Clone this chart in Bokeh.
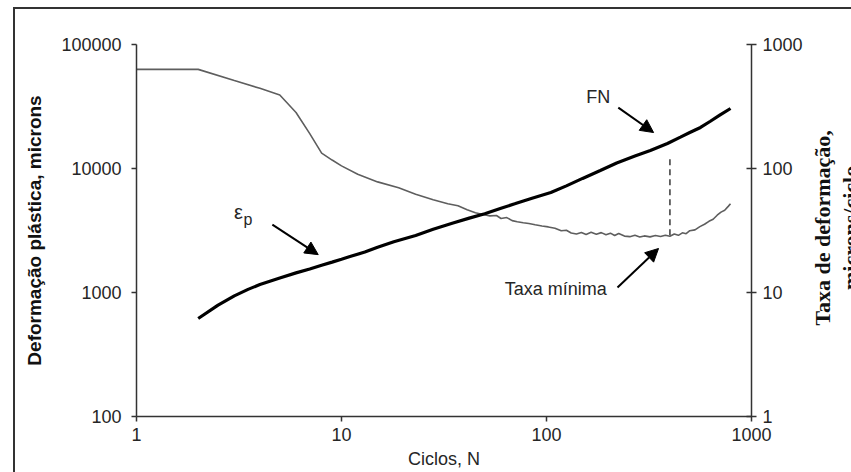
import numpy as np
from bokeh.plotting import figure
from bokeh.layouts import row
from bokeh.models import (LogAxis, Range1d, LogScale, FixedTicker, PrintfTickFormatter,
                          Label, Arrow, NormalHead, ColumnDataSource)
from bokeh.core.properties import value
from bokeh.embed import file_html
from bokeh.resources import INLINE

# ---- data ----
# strain rate curve (right axis, microns/cycle)
rate_cycles = [1, 2, 3, 4, 5, 6, 7, 8, 9, 10, 12, 15, 19, 23, 28, 33, 37, 41, 45, 49,
               53, 57, 60, 64, 68, 72, 77, 82, 88, 95, 102, 110, 118, 125, 132, 140,
               148, 156, 165, 175, 185, 195, 205, 215, 225, 240, 255, 270, 285, 300,
               320, 340, 360, 380, 400, 420, 440, 460, 480, 500, 530, 560, 590, 620,
               650, 680, 710, 740, 770, 790]
rate_values = [630, 630, 512, 443, 392, 283, 191, 133, 117, 105, 90, 78, 70, 62, 56, 52,
               50, 46.5, 44, 42.5, 41.5, 41.8, 39.5, 40.2, 38, 37.2, 36.5, 36, 35.2, 34.4,
               33.8, 33, 31.5, 31.8, 30.2, 29.6, 30.5, 29.4, 30.6, 29.5, 30.4, 29.2, 30.1,
               28.8, 29.9, 28.5, 28.2, 28.9, 28.0, 28.6, 28.1, 28.8, 28.3, 29.0, 28.4,
               29.6, 28.9, 30.3, 29.8, 31.5, 32.0, 34.0, 35.5, 37.5, 39.0, 42.0, 44.5,
               46.0, 49.5, 52]

# plastic deformation curve (left axis, microns)
strain_cycles = [2, 2.5, 3, 3.5, 4, 5, 6, 7, 8, 9, 10, 11, 13, 15, 18, 23, 28, 35, 42, 50,
                 60, 70, 85, 105, 125, 150, 183, 220, 270, 321, 389, 450, 500, 564, 630,
                 700, 790]
strain_values = [617, 790, 940, 1060, 1160, 1310, 1439, 1549, 1660, 1758, 1854, 1950,
                 2118, 2317, 2570, 2884, 3236, 3631, 3981, 4315, 4786, 5188, 5754, 6397,
                 7244, 8318, 9640, 11090, 12590, 13970, 15920, 17900, 19500, 21430, 24040,
                 26900, 30480]

# flow number marker
fn_cycle = 400
fn_rate_low = 29.0
fn_rate_high = 127

x_ticks = [1, 10, 100, 1000]
left_ticks = [100, 1000, 10000, 100000]
right_ticks = [1, 10, 100, 1000]

right_title_lines = ["Taxa de deformação,", "microns/ciclo"]

TXT = "#262626"
FONT = "Liberation Sans"
H = 463

p = figure(width=790, height=H, x_axis_type="log", y_axis_type="log",
           x_range=Range1d(1, 1000), y_range=Range1d(100, 100000),
           output_backend="svg", toolbar_location=None,
           min_border_left=121, min_border_right=54, min_border_top=35,
           min_border_bottom=56)
p.outline_line_color = None
p.background_fill_color = "white"
p.border_fill_color = "white"

p.extra_y_ranges = {"rate": Range1d(1, 1000)}
p.extra_y_scales = {"rate": LogScale()}

# grids
p.xgrid.visible = False
p.ygrid.ticker = FixedTicker(ticks=[100000])
p.ygrid.grid_line_color = "#8a8a8a"
p.ygrid.grid_line_width = 1

# bottom axis
xa = p.xaxis[0]
xa.ticker = FixedTicker(ticks=x_ticks)
xa.formatter = PrintfTickFormatter(format="%d")
xa.axis_label = "Ciclos, N"
xa.axis_label_text_font = FONT
xa.axis_label_text_font_style = "normal"
xa.axis_label_text_font_size = "18px"
xa.axis_label_text_color = TXT
xa.axis_label_standoff = 5
xa.major_label_standoff = 6

# left axis
ya = p.yaxis[0]
ya.ticker = FixedTicker(ticks=left_ticks)
ya.formatter = PrintfTickFormatter(format="%d")
ya.axis_label = "Deformação plástica, microns"
ya.axis_label_text_font = FONT
ya.axis_label_text_font_style = "bold"
ya.axis_label_text_font_size = "19px"
ya.axis_label_text_color = "#111111"
ya.axis_label_standoff = 13
ya.major_label_standoff = 10

# right axis
ra = LogAxis(y_range_name="rate", ticker=FixedTicker(ticks=right_ticks),
             formatter=PrintfTickFormatter(format="%d"))
p.add_layout(ra, "right")
ra.major_tick_in = 5
ra.major_label_standoff = 6

for ax in (xa, ya, ra):
    ax.axis_line_color = "#333333"
    ax.axis_line_width = 1.5
    ax.major_tick_line_color = "#333333"
    ax.major_tick_line_width = 1.5
    ax.major_tick_out = 5
    ax.minor_tick_line_color = None
    ax.major_label_text_font = FONT
    ax.major_label_text_font_size = "18px"
    ax.major_label_text_color = TXT
xa.major_tick_in = 0
ya.major_tick_in = 0

# curves
src_rate = ColumnDataSource(dict(n=rate_cycles, r=rate_values))
src_strain = ColumnDataSource(dict(n=strain_cycles, e=strain_values))
p.line("n", "r", source=src_rate, y_range_name="rate", line_color="#5e5e5e", line_width=1.6)
p.line("n", "e", source=src_strain, line_color="black", line_width=3.2)

# dashed FN marker
p.segment(x0=[fn_cycle], y0=[fn_rate_low], x1=[fn_cycle], y1=[fn_rate_high],
          y_range_name="rate", line_color="#444444", line_width=1.6, line_dash="6 4")

# annotations
def arrow(x0, y0, x1, y1):
    p.add_layout(Arrow(end=NormalHead(size=13, fill_color="black", line_color="black"),
                       x_start=x0, y_start=y0, x_end=x1, y_end=y1,
                       line_color="black", line_width=2))

arrow(224, 31000, 333, 19500)      # FN
arrow(4.6, 3530, 7.7, 2020)        # eps_p
arrow(222, 1096, 352, 2265)        # Taxa minima

def lab(x, y, t, size="18px"):
    p.add_layout(Label(x=x, y=y, text=t, text_font=FONT, text_font_size=size,
                       text_color=TXT, text_align="center", text_baseline="middle"))

lab(179, 37400, "FN")
lab(111, 1077, "Taxa mínima")
lab(3.14, 4420, "ε", size="20px")
lab(3.5, 3880, "p", size="16px")

# right-hand title panel (second line runs off the chart edge as in the original)
t = figure(width=46, height=H, x_range=Range1d(0, 1), y_range=Range1d(0, 1),
           output_backend="svg", toolbar_location=None, min_border=0,
           x_axis_location=None, y_axis_location=None)
t.outline_line_color = None
t.grid.visible = False
t.border_fill_color = "white"
t.background_fill_color = "white"
t.text(x=[0.36, 0.97], y=[0.507, 0.507], text=right_title_lines,
       angle=np.pi / 2, text_font=value("Liberation Serif"), text_font_style="bold",
       text_font_size="22px", text_color="#111111", text_align="center",
       text_baseline="middle")

layout = row(p, t, margin=(7, 0, 0, 13),
             styles={"border-left": "2px solid #333333", "border-top": "2px solid #333333"})

open("out.html", "w").write(file_html(layout, INLINE))
